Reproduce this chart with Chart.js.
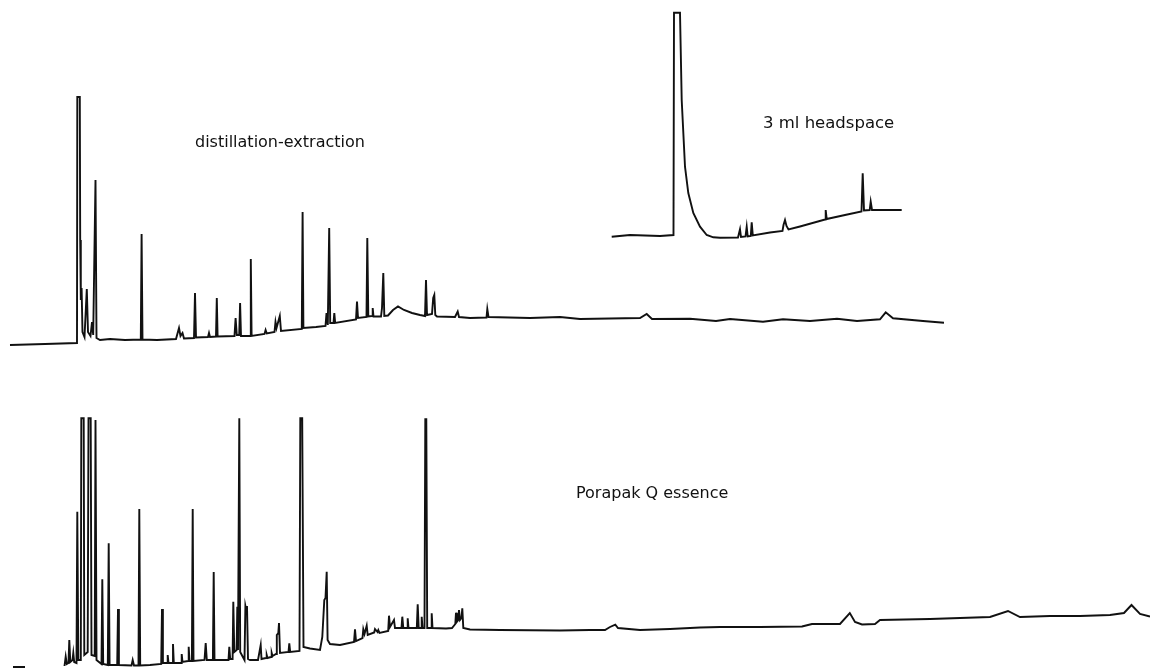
<!DOCTYPE html>
<html><head><meta charset="utf-8">
<script src="https://cdn.jsdelivr.net/npm/chart.js@4.4.1/dist/chart.umd.min.js"></script>
<style>html,body{margin:0;padding:0;background:#fff;overflow:hidden}canvas{display:block}</style>
</head><body>
<canvas id="c" width="1150" height="669"></canvas>
<script>
// Series names (printed as labels on the chart)
const seriesNames = ['distillation-extraction', '3 ml headspace', 'Porapak Q essence'];

// Distillation-extraction chromatogram: [retention, detector signal]
const distillationTrace = [
  [10,0],[45,1],[77,2],[77.3,248],[79.8,248],[80.2,105],[80.8,45],[81.6,57],[82.5,13],[84.5,8],
  [86.8,56],[88,13],[90.5,9],[92,23],[93.2,10],[95.5,165],[96.5,7],[100,5],[110,6],[125,5],
  [140.8,5.5],[141.6,111],[142.5,5.5],[157,5],[176,6],[179,17],[180.5,9],[182.5,12],[184,6.5],
  [194,7],[195,52],[196,7.5],[208,8],[209,12],[210,8],[216,8.5],[216.8,47],[217.6,8.5],
  [234.5,9],[235.6,27],[236.8,10],[239.2,10],[240.1,42],[241,9],[250,9],[250.8,86],[251.6,9],
  [264.5,11],[265.6,15],[266.8,11.5],[274.5,13],[275.5,23],[276.5,17],[279.8,29],[281,14],
  [301.8,16],[302.6,133],[303.4,17],[316,18],[325.5,19],[326.5,32],[327.8,20],[329.2,117],
  [330.2,22],[333.5,22],[334.3,32],[335.2,22],[356,25.5],[357,43.5],[358,27],[366.5,28],
  [367.3,107],[368.3,28.5],[372,29],[372.7,37],[373.5,28.5],[381,28.5],[382,37],[383.3,72],
  [384.3,29],[388,29.5],[393,35],[398,38.5],[404,35],[412,32],[420,30],[425,29],[426,65],
  [427,30],[432,31],[433.2,47],[434.3,50],[435.3,30],[437,28.5],[455,28],[457.7,33.5],[459,28],
  [470,27],[486.5,27.5],[487.3,36],[488.5,28],[530,27],[560,28],[580,26],[640,27],[646.7,31],
  [652,26],[690,26.3],[716,24],[730,26],[763,23.3],[783,25.7],[810,24],[837,26.3],[857,24],
  [880,25.7],[885.7,32.7],[893,26.7],[923,24],[944,22.3]
];

// 3 ml headspace chromatogram (inset): [retention, detector signal]
const headspaceTrace = [
  [1.7,1.3],[20,3],[35,2.5],[50,2],[63.5,3],[64,225.3],[70,225.3],[71.7,138],[75,71.3],
  [78.3,45],[83.3,25],[90,11.3],[96.7,3],[103.3,0.7],[110,0.3],[128,0.5],[130,8.7],[131,1],
  [135.5,1.5],[136.7,11.3],[137.7,1.5],[140.8,2],[141.7,15.7],[142.8,2.5],[160,5.5],[172.5,7],
  [173.5,13],[175,18],[176.5,12],[178.5,8.5],[190,11.5],[215,18.5],[215.7,28],[216.7,19],
  [235,23],[251.5,26.5],[252.7,64.7],[254,27.5],[259.7,28],[260.7,36.3],[262,28],[275,28],
  [291.7,28]
];

// Porapak Q essence chromatogram: [retention, detector signal] (null = pen lifted)
const porapakTrace = [
  [13,0],[25,0],[40,null],[64.5,1],[65.7,10.3],[66.8,3],[68.5,4],[69.3,27],[70.3,5],[72.5,7],
  [73.3,14],[74.2,5],[76.5,4],[77.3,155.3],[78.3,7],[80.8,7],[81.3,248.7],[83.7,248.7],[84.3,12],
  [87.7,15],[88.5,248.7],[90.7,248.7],[91.5,12],[94.7,11],[95.5,247],[96.5,7],[101.5,3],
  [102.3,87.7],[103.2,3],[107.8,2],[108.7,123.7],[109.6,2],[117.2,2],[118,58],[118.9,2],
  [131.5,1.5],[132.7,7],[134,1.5],[138.5,1.5],[139.3,158],[140.2,1.5],[150,2],[161.2,3],
  [162,58],[162.9,4],[167,4],[167.7,12],[168.5,4],[172.3,4],[173,23],[173.8,4],[181,4],
  [181.7,13],[182.5,5],[188,6],[188.7,20.3],[189.5,6],[191.9,6],[192.7,158],[193.5,6],
  [204.5,7],[205.7,24],[206.8,7],[212.9,7],[213.7,95],[214.5,7],[228.5,7],[229.3,20.3],
  [230.2,8],[232.6,8],[233.3,65.3],[234.3,15],[236.6,17],[237.3,60.3],[238,17],[238.6,17],
  [239.3,248.7],[240.2,15],[244.5,7],[245.4,61],[246.2,57],[247,61],[248,8],[250,7],[258,7],
  [260.7,22],[261.5,8],[266,9],[266.7,12],[267.5,9],[271,10],[271.7,14],[272.5,11],[276,13],
  [276.8,32],[278.3,34],[279,44],[280,14],[288.5,15],[289.3,23.7],[290.2,15],[299.5,16],
  [300.3,248.7],[302.2,248.7],[303.5,20],[310,18.5],[320,17],[322.3,30],[324.3,67],[325.5,69],
  [326.7,95.3],[327.6,27],[330,23],[340,22],[354,25],[355,37.7],[356,26],[362.5,29],[363.3,37.7],
  [364.5,33],[366.7,41.3],[367.7,32],[374.2,34.5],[375,38],[377.5,35],[378.3,37],[379.5,34],
  [388.2,36],[389,51.3],[390,40],[394,47],[395,39],[401.5,39],[402.3,50.3],[403.3,39],[407,39],
  [407.7,48.7],[408.5,39],[416.8,39],[417.7,62.7],[418.7,39],[421,39],[421.7,50.3],[422.5,39],
  [424.5,39],[425.3,247.7],[426.3,247.7],[427.2,39],[431,39],[431.7,53.7],[432.5,39],[446,38.5],
  [452,39],[455.3,43],[456,54.3],[456.8,45],[458.3,47],[459,57],[460,47],[461.5,49],[462.3,58.7],
  [463.3,39],[470,37.5],[500,37],[530,36.7],[560,36.5],[590,37],[605,37],[610,40],[615.3,42.4],
  [618,39],[640,37],[670,38],[700,39.5],[720,40],[760,40],[802,40.5],[812,43],[840,43],
  [849.8,54],[855,45],[862,42.5],[875,43],[880,47],[930,48],[990,50],[1008,56],[1020,50],
  [1050,51],[1080,51],[1110,52],[1124,54],[1131.5,62],[1140,53],[1150,50.5]
];

const toXY = arr => arr.map(p => ({ x: p[0], y: p[1] }));
const ink = '#111111';

const labelPlugin = {
  id: 'traceLabels',
  afterDatasetsDraw(chart) {
    const ctx = chart.ctx, s = chart.scales;
    ctx.save();
    ctx.fillStyle = ink;
    ctx.textBaseline = 'middle';
    ctx.textAlign = 'left';
    ctx.font = '16px "DejaVu Sans"';
    ctx.fillText(seriesNames[0], s.x.getPixelForValue(195), s.yTop.getPixelForValue(202));
    ctx.font = '16.5px "DejaVu Sans"';
    ctx.fillText(seriesNames[1], s.xH.getPixelForValue(153), s.yHead.getPixelForValue(114));
    ctx.font = '16px "DejaVu Sans"';
    ctx.fillText(seriesNames[2], s.x.getPixelForValue(576), s.yBot.getPixelForValue(173));
    ctx.restore();
  }
};

const common = { borderColor: ink, borderWidth: 1.9, pointRadius: 0, tension: 0, fill: false, spanGaps: false };

new Chart(document.getElementById('c'), {
  type: 'line',
  data: {
    datasets: [
      Object.assign({ label: seriesNames[0], data: toXY(distillationTrace), xAxisID: 'x', yAxisID: 'yTop' }, common),
      Object.assign({ label: seriesNames[1], data: toXY(headspaceTrace), xAxisID: 'xH', yAxisID: 'yHead' }, common),
      Object.assign({ label: seriesNames[2], data: toXY(porapakTrace), xAxisID: 'x', yAxisID: 'yBot' }, common)
    ]
  },
  options: {
    responsive: false,
    animation: false,
    devicePixelRatio: 1,
    layout: { padding: 0 },
    plugins: { legend: { display: false }, tooltip: { enabled: false } },
    scales: {
      x:     { type: 'linear', display: false, min: 0, max: 1150 },
      xH:    { type: 'linear', display: false, min: -610, max: 540 },
      yTop:  { type: 'linear', display: false, min: -324, max: 345 },
      yHead: { type: 'linear', display: false, min: -431, max: 238 },
      yBot:  { type: 'linear', display: false, min: -2, max: 667 }
    }
  },
  plugins: [labelPlugin]
});
</script>
</body></html>
